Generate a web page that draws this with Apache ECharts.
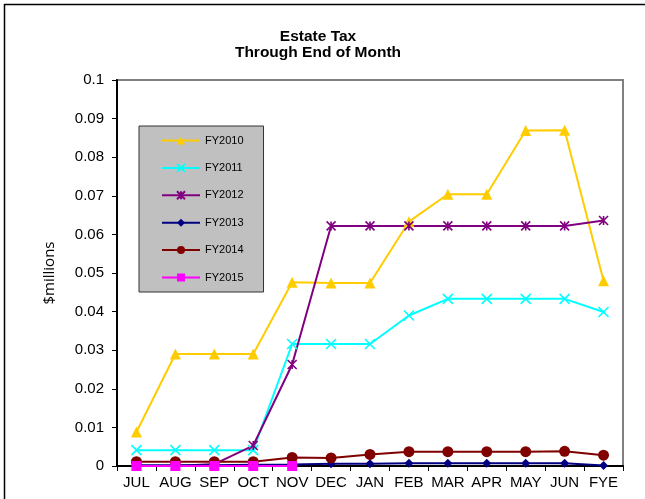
<!DOCTYPE html>
<html>
<head>
<meta charset="utf-8">
<script src="https://cdn.jsdelivr.net/npm/echarts@6/dist/echarts.min.js"></script>
<style>
  html, body { margin: 0; padding: 0; background: #fff; }
  #main { width: 645px; height: 499px; }
</style>
</head>
<body>
<div id="main"></div>
<script>
  const months = ['JUL', 'AUG', 'SEP', 'OCT', 'NOV', 'DEC', 'JAN', 'FEB', 'MAR', 'APR', 'MAY', 'JUN', 'FYE']
  const fy2010 = [0.0088, 0.029, 0.029, 0.029, 0.0476, 0.0474, 0.0474, 0.0633, 0.0704, 0.0704, 0.0869, 0.087, 0.048]
  const fy2011 = [0.0041, 0.0041, 0.0041, 0.0041, 0.0316, 0.0316, 0.0316, 0.039, 0.0433, 0.0433, 0.0433, 0.0433, 0.0399]
  const fy2012 = [0, 0, 0.0005, 0.0053, 0.0263, 0.0622, 0.0622, 0.0622, 0.0622, 0.0622, 0.0622, 0.0622, 0.0636]
  const fy2013 = [0.0002, 0.0002, 0.0002, 0.0003, 0.0004, 0.0006, 0.0006, 0.0007, 0.0007, 0.0007, 0.0007, 0.0007, 0.0001]
  const fy2014 = [0.0011, 0.0011, 0.0011, 0.0011, 0.0022, 0.0021, 0.003, 0.0037, 0.0037, 0.0037, 0.0037, 0.0038, 0.0028]
  const fy2015 = [0, 0, 0, 0, 0, null, null, null, null, null, null, null, null]

  const xMark = 'path://M0,0L10,10M10,0L0,10'
  const starMark = 'path://M0,0L10,10M10,0L0,10M5,0L5,10'

  // one line series
  const mkLine = (name, data, color, symbol, size) => ({
    name: name,
    type: 'line',
    data: data,
    symbol: symbol,
    symbolSize: size,
    showAllSymbol: true,
    connectNulls: false,
    lineStyle: { color: color, width: 2 },
    itemStyle: { color: color, borderColor: color, borderWidth: symbol.indexOf('path://') === 0 ? 1.6 : 0 },
  })

  const chart = echarts.init(document.getElementById('main'))
  const option = {
    animation: false,
    textStyle: { fontFamily: 'Liberation Sans, Arial, sans-serif' },
    title: {
      text: 'Estate Tax\nThrough End of Month',
      left: 313,
      top: 24,
      textAlign: 'center',
      textStyle: { fontSize: 15.5, fontWeight: 'bold', color: '#000', lineHeight: 16 },
    },
    legend: {
      orient: 'vertical',
      left: 139,
      top: 126,
      padding: [9, 20, 9, 22],
      itemWidth: 38,
      itemHeight: 10,
      itemGap: 16.4,
      itemTextGap: 4,
      backgroundColor: '#C0C0C0',
      borderColor: '#333',
      borderWidth: 1,
      textStyle: { fontSize: 11, color: '#000' },
    },
    graphic: [
      {
        type: 'rect',
        shape: { x: 4.5, y: 4.5, width: 660, height: 520 },
        style: { fill: null, stroke: '#000', lineWidth: 1.5 },
        silent: true,
      },
    ],
    grid: {
      left: 117,
      right: 22,
      top: 80,
      bottom: 33,
      show: true,
      borderColor: '#808080',
      borderWidth: 2,
    },
    xAxis: {
      type: 'category',
      data: months,
      boundaryGap: true,
      axisLine: { lineStyle: { color: '#000', width: 2 } },
      axisTick: { show: true, alignWithLabel: false, length: 5, lineStyle: { color: '#000' } },
      axisLabel: { color: '#000', fontSize: 15, margin: 9, interval: 0 },
      splitLine: { show: false },
    },
    yAxis: {
      type: 'value',
      min: 0,
      max: 0.1,
      interval: 0.01,
      name: '$millions',
      nameLocation: 'middle',
      nameGap: 60,
      nameTextStyle: { fontFamily: 'Open Sans', fontSize: 15, color: '#000' },
      axisLine: { show: true, lineStyle: { color: '#000', width: 2 } },
      axisTick: { show: true, length: 5, lineStyle: { color: '#000' } },
      axisLabel: { color: '#000', fontSize: 15, margin: 13 },
      splitLine: { show: false },
    },
    series: [
      mkLine('FY2010', fy2010, '#FFCC00', 'triangle', 11),
      mkLine('FY2011', fy2011, '#00FFFF', xMark, 10),
      mkLine('FY2012', fy2012, '#800080', starMark, 9),
      mkLine('FY2013', fy2013, '#000080', 'diamond', 9),
      mkLine('FY2014', fy2014, '#800000', 'circle', 11),
      mkLine('FY2015', fy2015, '#FF00FF', 'rect', 10),
    ],
  }
  chart.setOption(option)
</script>
</body>
</html>
